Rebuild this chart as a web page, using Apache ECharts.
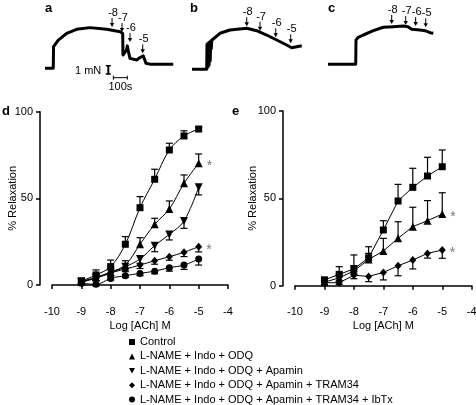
<!DOCTYPE html>
<html><head><meta charset="utf-8">
<script src="https://cdn.jsdelivr.net/npm/echarts/dist/echarts.min.js"></script>
<style>html,body{margin:0;padding:0;background:#fff}#c{width:476px;height:405px}</style>
</head><body><div id="c"></div>
<script>
// ---------- DATA ----------
const logACh = [-9, -8.5, -8, -7.5, -7, -6.5, -6, -5.5, -5];
const xTicks = [-10, -9, -8, -7, -6, -5, -4];
const yTicks = [0, 50, 100];
const seriesNames = ['Control', 'L-NAME + Indo + ODQ', 'L-NAME + Indo + ODQ + Apamin',
  'L-NAME + Indo + ODQ + Apamin + TRAM34', 'L-NAME + Indo + ODQ + Apamin + TRAM34 + IbTx'];

// panel d
const dControl = [2.3, 5.8, 10.6, 23.5, 44.6, 61, 77.9, 86, 90];
const dControlErr = [1.5, 2.9, 3.8, 4.4, 6.4, 5.8, 3.9, 3, 1];
const dNoIndoOdq = [2, 4.5, 7.5, 11.5, 23.5, 35, 43.8, 58.7, 70.2];
const dNoIndoOdqErr = [1, 2, 3, 2.5, 3.8, 3.5, 4.7, 4.8, 5.4];
const dApamin = [2, 4, 7, 10.5, 15, 22.7, 29.2, 36.9, 56.4];
const dApaminErr = [1, 1.5, 2, 2, 2.5, 3.5, 3.2, 4.2, 4.4];
const dTram = [1.5, 4, 7, 9.2, 11.5, 14, 16.3, 18.9, 22.1];
const dTramErr = [1, 1.5, 1.5, 1.5, 2, 2, 2, 2.5, 3];
const dIbtx = [1, 0.4, 3.8, 5.4, 6.7, 8, 10, 11.5, 15];
const dIbtxErr = [1, 1, 1, 1, 1.3, 1.5, 2, 2.5, 3.5];

// panel e
const eControl = [3.3, 6.5, 9.6, 16, 31.9, 48.5, 56.3, 62.8, 68.1];
const eControlErr = [1.5, 4.4, 8, 6.3, 5.3, 9.5, 10.9, 10.7, 9.6];
const eNoIndoOdq = [2, 4.5, 8.5, 15, 19.9, 27.1, 33.8, 37.2, 41];
const eNoIndoOdqErr = [1, 2, 3, 3.5, 7.2, 9.5, 11.1, 11.5, 12.2];
const eTram = [1.7, 1.7, 6, 5.3, 7.6, 11.4, 14.7, 18.5, 20.4];
const eTramErr = [1, 1, 2, 3, 4.3, 5.7, 5.1, 2.7, 4.7];

// tension traces (time in s, force in mN)
const traceATime = [0, 59, 61, 95, 155, 226, 321, 441, 536, 555, 557, 571, 582, 588, 596, 607, 655, 679, 702, 721, 750, 916];
const traceAForce = [0, 0, 2.6, 3.4, 4.2, 4.7, 4.9, 4.7, 4.4, 4.2, 1.6, 1.4, 2.2, 2.7, 2.0, 1.2, 1.0, 1.3, 1.5, 0.6, 0.5, 0.5];
const traceBTime = [0, 105, 107, 110, 113, 116, 119, 122, 126, 130, 134, 138, 141, 200, 271, 391, 462, 533, 605, 676, 712, 748, 784];
const traceBForce = [0, 0, 3.0, 0.2, 3.1, 0.3, 3.2, 0.5, 3.3, 1.0, 3.4, 2.5, 3.5, 4.34, 4.73, 4.94, 4.65, 4.13, 3.53, 2.93, 2.6, 2.72, 2.84];
const traceCTime = [0, 198, 200, 216, 252, 324, 395, 466, 538, 571, 598, 657, 693, 729, 752];
const traceCForce = [0, 0, 2.93, 3.25, 3.53, 4.05, 4.46, 4.53, 4.61, 4.53, 4.22, 4.13, 4.05, 3.81, 3.73];

const doseLabels = ['-8', '-7', '-6', '-5'];
const arrowATime = [479, 550, 607, 698];
const arrowAForce = [4.98, 4.37, 3.17, 1.8];
const arrowBTime = [391, 486, 598, 705];
const arrowBForce = [5.2, 4.65, 3.86, 3.13];
const arrowCTime = [455, 555, 626, 698];
const arrowCForce = [4.86, 4.73, 4.61, 4.46];

const scaleBarForce = 1;   // mN
const scaleBarTime = 100;  // s

// ---------- LAYOUT ----------
const FONT = 'Liberation Sans, Arial, sans-serif';
const pxPerS = 0.14, pxPerMN = 8.3, tMax = 1000;
function traceGrid(left, baseline, fMin, fMax) {
  return { left: left, top: baseline - fMax * pxPerMN, width: tMax * pxPerS,
    height: (fMax - fMin) * pxPerMN, outerBoundsMode: 'none', containLabel: false };
}
const traceRanges = [[45, 68.3, -2.6, 8], [192, 69.3, -1, 8], [328, 64.3, -1, 7.5]];
const grids = traceRanges.map(r => traceGrid(r[0], r[1], r[2], r[3]));
grids.push({ left: 52, top: 111.7, width: 176, height: 173.3, outerBoundsMode: 'none', containLabel: false });
grids.push({ left: 295, top: 111, width: 176.7, height: 174.7, outerBoundsMode: 'none', containLabel: false });

const xAxes = [], yAxes = [];
traceRanges.forEach((r, i) => {
  xAxes.push({ type: 'value', gridIndex: i, min: 0, max: tMax, show: false });
  yAxes.push({ type: 'value', gridIndex: i, min: r[2], max: r[3], show: false });
});
function drAxes(gi, yNameGap) {
  const line = { show: true, lineStyle: { color: '#000', width: 1.5 } };
  xAxes.push({ type: 'value', gridIndex: gi, min: xTicks[0], max: xTicks[xTicks.length - 1], interval: 1,
    offset: 13, axisLine: line, axisTick: { show: true, length: 4, lineStyle: { color: '#000', width: 1.5 } },
    splitLine: { show: false }, axisLabel: { color: '#000', fontSize: 11, fontFamily: FONT, margin: 8 },
    name: 'Log [ACh] M', nameLocation: 'middle', nameGap: 22, nameMoveOverlap: false,
    nameTextStyle: { color: '#000', fontSize: 11, fontFamily: FONT } });
  yAxes.push({ type: 'value', gridIndex: gi, min: yTicks[0], max: yTicks[yTicks.length - 1], interval: 50,
    offset: 12, axisLine: line, axisTick: { show: true, length: 4, lineStyle: { color: '#000', width: 1.5 } },
    splitLine: { show: false }, axisLabel: { color: '#000', fontSize: 11, fontFamily: FONT, margin: 7 },
    name: '% Relaxation', nameLocation: 'middle', nameGap: yNameGap, nameMoveOverlap: false,
    nameTextStyle: { color: '#000', fontSize: 11, fontFamily: FONT } });
}
drAxes(3, 22);
drAxes(4, 25);

const invTri = 'path://M0,0 L10,0 L5,9 Z';
const symbols = ['rect', 'triangle', invTri, 'diamond', 'circle'];
const symSizes = [7, 8, 8, [7, 8], 7];

function traceSeries(gi, ts, fs) {
  return { type: 'line', xAxisIndex: gi, yAxisIndex: gi, data: ts.map((t, i) => [t, fs[i]]),
    showSymbol: false, silent: true, lineStyle: { color: '#000', width: 3, join: 'round' }, z: 2 };
}
function arrowSeries(gi, ts, fs) {
  return { type: 'custom', xAxisIndex: gi, yAxisIndex: gi, silent: true, z: 3,
    data: ts.map((t, i) => [t, fs[i]]),
    renderItem: function (params, api) {
      const p = api.coord([api.value(0), api.value(1)]);
      return { type: 'group', children: [
        { type: 'line', shape: { x1: p[0], y1: p[1] - 9, x2: p[0], y2: p[1] - 3 }, style: { stroke: '#000', lineWidth: 1 } },
        { type: 'polygon', shape: { points: [[p[0] - 2.2, p[1] - 4], [p[0] + 2.2, p[1] - 4], [p[0], p[1]]] }, style: { fill: '#000' } },
        { type: 'text', style: { text: doseLabels[params.dataIndex], x: p[0] + 1, y: p[1] - 14, align: 'center', verticalAlign: 'middle',
          font: '11px ' + FONT, fill: '#000' } }
      ] };
    } };
}
function scaleSeries() {
  return { type: 'custom', xAxisIndex: 0, yAxisIndex: 0, silent: true, z: 3,
    data: [[452, -0.69, 488, -1.13]],
    renderItem: function (params, api) {
      const v0 = api.coord([api.value(0), api.value(1)]);
      const v1 = api.coord([api.value(0), api.value(1) + scaleBarForce]);
      const h0 = api.coord([api.value(2), api.value(3)]);
      const h1 = api.coord([api.value(2) + scaleBarTime, api.value(3)]);
      const st = { stroke: '#000', lineWidth: 1.5 };
      return { type: 'group', children: [
        { type: 'line', shape: { x1: v0[0], y1: v0[1], x2: v1[0], y2: v1[1] }, style: { stroke: '#000', lineWidth: 2 } },
        { type: 'line', shape: { x1: v0[0] - 2.5, y1: v0[1], x2: v0[0] + 2.5, y2: v0[1] }, style: st },
        { type: 'line', shape: { x1: v1[0] - 2.5, y1: v1[1], x2: v1[0] + 2.5, y2: v1[1] }, style: st },
        { type: 'line', shape: { x1: h0[0], y1: h0[1], x2: h1[0], y2: h1[1] }, style: { stroke: '#000', lineWidth: 1 } },
        { type: 'line', shape: { x1: h0[0], y1: h0[1] - 2, x2: h0[0], y2: h0[1] + 2 }, style: { stroke: '#000', lineWidth: 1 } },
        { type: 'line', shape: { x1: h1[0], y1: h1[1] - 2, x2: h1[0], y2: h1[1] + 2 }, style: { stroke: '#000', lineWidth: 1 } },
        { type: 'text', style: { text: scaleBarForce + ' mN', x: v0[0] - 7, y: (v0[1] + v1[1]) / 2 + 1, align: 'right', verticalAlign: 'middle', font: '11px ' + FONT, fill: '#000' } },
        { type: 'text', style: { text: scaleBarTime + 's', x: (h0[0] + h1[0]) / 2, y: h0[1] + 9, align: 'center', verticalAlign: 'middle', font: '11px ' + FONT, fill: '#000' } }
      ] };
    } };
}
function doseSeries(gi, k, vals, smooth, star) {
  const data = logACh.map((x, i) => [x, vals[i]]);
  if (star) {
    const last = data.length - 1;
    data[last] = { value: data[last], label: { show: true, position: 'right', distance: 4, formatter: '*',
      color: '#777', fontSize: 14, fontFamily: FONT, offset: [0, 3] } };
  }
  return { type: 'line', name: seriesNames[k], xAxisIndex: gi, yAxisIndex: gi, data: data,
    smooth: smooth ? 0.35 : false, symbol: symbols[k], symbolSize: symSizes[k], showAllSymbol: true,
    itemStyle: { color: '#000' }, lineStyle: { color: '#000', width: 1 }, z: 4, animation: false };
}
function errSeries(gi, vals, errs, dir) {
  return { type: 'custom', xAxisIndex: gi, yAxisIndex: gi, silent: true, z: 3,
    data: logACh.map((x, i) => [x, vals[i], errs[i]]),
    renderItem: function (params, api) {
      const x = api.value(0), y = api.value(1), e = api.value(2);
      const p = api.coord([x, y]), q = api.coord([x, y + dir * e]);
      const st = { stroke: '#000', lineWidth: 1.2 };
      return { type: 'group', children: [
        { type: 'line', shape: { x1: p[0], y1: p[1], x2: q[0], y2: q[1] }, style: st },
        { type: 'line', shape: { x1: q[0] - 3.5, y1: q[1], x2: q[0] + 3.5, y2: q[1] }, style: st }
      ] };
    } };
}

const series = [
  traceSeries(0, traceATime, traceAForce), traceSeries(1, traceBTime, traceBForce), traceSeries(2, traceCTime, traceCForce),
  arrowSeries(0, arrowATime, arrowAForce), arrowSeries(1, arrowBTime, arrowBForce), arrowSeries(2, arrowCTime, arrowCForce),
  scaleSeries(),
  errSeries(3, dControl, dControlErr, 1), errSeries(3, dNoIndoOdq, dNoIndoOdqErr, 1), errSeries(3, dApamin, dApaminErr, -1),
  errSeries(3, dTram, dTramErr, -1), errSeries(3, dIbtx, dIbtxErr, -1),
  doseSeries(3, 0, dControl, true, false), doseSeries(3, 1, dNoIndoOdq, true, true), doseSeries(3, 2, dApamin, true, false),
  doseSeries(3, 3, dTram, true, true), doseSeries(3, 4, dIbtx, true, false),
  errSeries(4, eControl, eControlErr, 1), errSeries(4, eNoIndoOdq, eNoIndoOdqErr, 1), errSeries(4, eTram, eTramErr, -1),
  doseSeries(4, 0, eControl, false, false), doseSeries(4, 1, eNoIndoOdq, false, true), doseSeries(4, 3, eTram, false, true)
];

const letterStyle = { fontSize: 13, fontWeight: 'bold', color: '#000', fontFamily: FONT };
const letters = [['a', 45, 2], ['b', 190, 2], ['c', 328, 2], ['d', 2, 105], ['e', 232, 105]];

const option = {
  animation: false,
  backgroundColor: '#fff',
  title: letters.map(l => ({ text: l[0], left: l[1], top: l[2], padding: 0, textStyle: letterStyle })),
  grid: grids,
  xAxis: xAxes,
  yAxis: yAxes,
  legend: { orient: 'vertical', left: 129, top: 335.5, height: 80, width: 320, padding: 0, itemWidth: 6, itemHeight: 6, itemGap: 1.4,
    selectedMode: false, textStyle: { color: '#000', fontSize: 11, fontFamily: FONT, lineHeight: 13 },
    data: seriesNames.map((n, k) => ({ name: n, icon: symbols[k] })) },
  series: series
};
const chart = echarts.init(document.getElementById('c'));
chart.setOption(option);
</script></body></html>
